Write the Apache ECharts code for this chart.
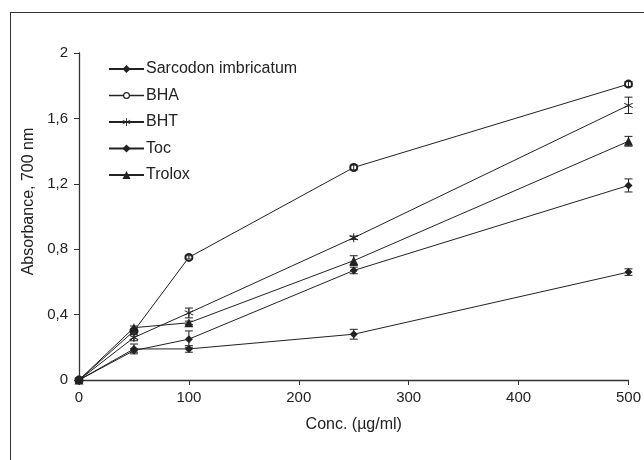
<!DOCTYPE html>
<html>
<head>
<meta charset="utf-8">
<script src="https://cdn.jsdelivr.net/npm/echarts@6/dist/echarts.min.js"></script>
<style>
  html, body { margin:0; padding:0; background:#fff; }
  #frame { position:absolute; left:10px; top:12px; width:634px; height:448px; border-left:1.3px solid #333; border-top:1.3px solid #333; box-sizing:border-box; }
  #chart { position:absolute; left:0; top:0; width:644px; height:460px; }
</style>
</head>
<body>
<div id="frame"></div>
<div id="chart"></div>
<script>
// ---- data ----
var conc = [0, 50, 100, 250, 500];
var seriesNames = ['Sarcodon imbricatum', 'BHA', 'BHT', 'Toc', 'Trolox'];
var sarcodon = [0, 0.19, 0.19, 0.28, 0.66];
var bha      = [0, 0.30, 0.75, 1.30, 1.81];
var bht      = [0, 0.26, 0.41, 0.87, 1.68];
var toc      = [0, 0.18, 0.25, 0.67, 1.19];
var trolox   = [0, 0.32, 0.35, 0.73, 1.46];
var sarcodonErr = [0, 0.03, 0.02, 0.03, 0.02];
var bhaErr      = [0, 0.01, 0.01, 0.015, 0.015];
var bhtErr      = [0, 0.02, 0.03, 0.01, 0.05];
var tocErr      = [0, 0.01, 0.05, 0.02, 0.04];
var troloxErr   = [0, 0.01, 0.01, 0.03, 0.03];
var yTicks = [0, 0.4, 0.8, 1.2, 1.6, 2];
var xTicks = [0, 100, 200, 300, 400, 500];

var values = [sarcodon, bha, bht, toc, trolox];
var errors = [sarcodonErr, bhaErr, bhtErr, tocErr, troloxErr];

var ink = '#222';
var font = 'Liberation Sans, Arial, sans-serif';
var asterisk = 'path://M-1,-10 L1,-10 L1,10 L-1,10 Z ' +
  'M-8.16,-5.87 L9.16,4.13 L8.16,5.87 L-9.16,-4.13 Z ' +
  'M-9.16,4.13 L8.16,-5.87 L9.16,-4.13 L-8.16,5.87 Z';
// legend icon for BHA: line with a small open ring
var ringLegend = 'path://M0,4.2 L14,4.2 L14,5.8 L0,5.8 Z ' +
  'M21,4.2 L35,4.2 L35,5.8 L21,5.8 Z ' +
  'M21,5 A3.5,3.5 0 1 1 14,5 A3.5,3.5 0 1 1 21,5 Z ' +
  'M19.8,5 A2.3,2.3 0 1 0 15.2,5 A2.3,2.3 0 1 0 19.8,5 Z';
var symbols = ['diamond', 'emptyCircle', asterisk, 'diamond', 'triangle'];
var sizes = [8, 7, 9, 8, 9];

function pairs(arr) { return conc.map(function (c, i) { return [c, arr[i]]; }); }
function errData(arr, err) {
  var out = [];
  conc.forEach(function (c, i) { if (err[i] > 0) out.push([c, arr[i] - err[i], arr[i] + err[i]]); });
  return out;
}
function errRender(params, api) {
  var x = api.value(0), lo = api.value(1), hi = api.value(2);
  var p1 = api.coord([x, hi]), p2 = api.coord([x, lo]);
  var hw = 4;
  var st = { stroke: ink, lineWidth: 1 };
  return { type: 'group', children: [
    { type: 'line', shape: { x1: p1[0], y1: p1[1], x2: p2[0], y2: p2[1] }, style: st },
    { type: 'line', shape: { x1: p1[0] - hw, y1: p1[1], x2: p1[0] + hw, y2: p1[1] }, style: st },
    { type: 'line', shape: { x1: p2[0] - hw, y1: p2[1], x2: p2[0] + hw, y2: p2[1] }, style: st }
  ]};
}

var series = [];
seriesNames.forEach(function (name, k) {
  series.push({
    name: name, type: 'line', data: pairs(values[k]),
    symbol: symbols[k], symbolSize: sizes[k], showAllSymbol: true,
    lineStyle: { color: ink, width: 1 },
    itemStyle: { color: ink, borderWidth: symbols[k] === 'emptyCircle' ? 1 : 0 },
    z: 3
  });
  series.push({
    name: name + ' err', type: 'custom', data: errData(values[k], errors[k]),
    renderItem: errRender, z: 4, silent: true
  });
});

var chart = echarts.init(document.getElementById('chart'), null, { renderer: 'canvas' });
chart.setOption({
  animation: false,
  backgroundColor: 'transparent',
  textStyle: { fontFamily: font },
  grid: { left: 79, right: 10, top: 53, bottom: 80, containLabel: false },
  legend: {
    data: seriesNames.map(function (n, k) {
      return symbols[k] === 'emptyCircle' ? { name: n, icon: ringLegend, itemStyle: { color: ink } } : { name: n };
    }),
    orient: 'vertical', left: 108, top: 61, padding: 0,
    itemWidth: 35, itemHeight: 10, itemGap: 10.5,
    textStyle: { fontSize: 16, color: ink, fontFamily: font, padding: [0, 0, 0, -3] },
    selectedMode: false
  },
  xAxis: {
    type: 'value', min: xTicks[0], max: xTicks[xTicks.length - 1], interval: 100,
    name: 'Conc. (µg/ml)', nameLocation: 'middle', nameGap: 37,
    nameTextStyle: { fontSize: 16, color: ink, fontFamily: font },
    axisLine: { lineStyle: { color: '#333', width: 1.3 } },
    axisTick: { show: true, length: 5, lineStyle: { color: '#333' } },
    axisLabel: { fontSize: 15, color: ink, margin: 10, fontFamily: font },
    splitLine: { show: false }
  },
  yAxis: {
    type: 'value', min: yTicks[0], max: yTicks[yTicks.length - 1], interval: 0.4,
    name: 'Absorbance, 700 nm', nameLocation: 'middle', nameGap: 42,
    nameTextStyle: { fontSize: 16, color: ink, fontFamily: font, padding: [0, 0, 0, 30] },
    axisLine: { show: true, lineStyle: { color: '#333', width: 1.3 } },
    axisTick: { show: true, length: 5, lineStyle: { color: '#333' } },
    axisLabel: { fontSize: 15, color: ink, margin: 11, fontFamily: font,
      formatter: function (v) { return String(Math.round(v * 10) / 10).replace('.', ','); } },
    splitLine: { show: false }
  },
  series: series
});
</script>
</body>
</html>
